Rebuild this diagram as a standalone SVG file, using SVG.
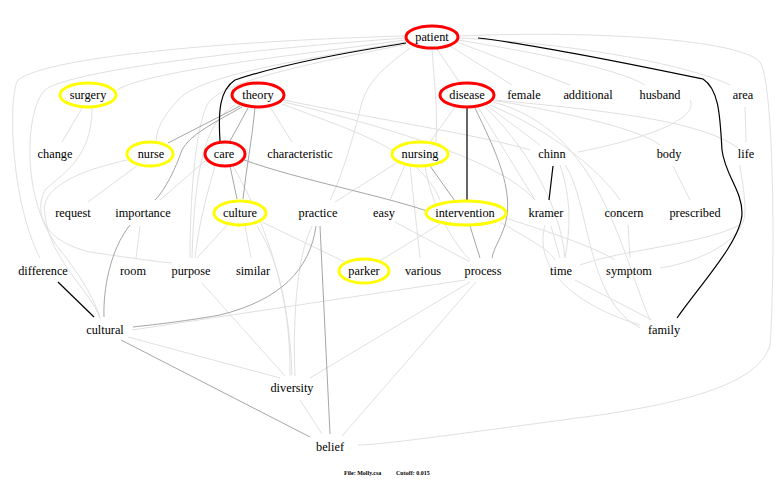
<svg xmlns="http://www.w3.org/2000/svg" width="780" height="485" viewBox="0 0 780 485">
<style>
.bg{fill:#ffffff}
.l{fill:none;stroke:#e0e0e0;stroke-width:1}
.m{fill:none;stroke:#a6a6a6;stroke-width:1}
.k{fill:none;stroke:#000000;stroke-width:1.2}
.t{font-size:12.3px;fill:#000;text-anchor:middle;dominant-baseline:central}
.r{fill:#ffffff;stroke:#ff0000;stroke-width:3}
.y{fill:#ffffff;stroke:#ffff00;stroke-width:3}
.f{font-size:6px;font-weight:bold;fill:#000}
</style>
<rect class="bg" x="0" y="0" width="780" height="485"/>
<g id="connectors">
<path class="l" d="M405,40 C300,55 150,70 117,90"/>
<path class="l" d="M406,36 C250,40 50,55 18,80 C8,95 10,200 40,258"/>
<path class="l" d="M406,38 C260,48 70,70 45,90 C25,110 20,200 60,250 C80,275 95,300 100,318"/>
<path class="l" d="M406,42 C300,60 200,75 178,100 C160,120 157,130 156,141"/>
<path class="l" d="M407,44 C320,62 220,80 207,105 C195,130 190,200 190,258"/>
<path class="l" d="M410,48 C380,70 365,85 360,110 C350,150 340,180 330,200"/>
<path class="l" d="M432,49 C434,80 438,110 436,142"/>
<path class="l" d="M437,49 L460,83"/>
<path class="l" d="M450,46 L512,85"/>
<path class="l" d="M457,42 L570,85"/>
<path class="l" d="M458,40 C550,55 620,70 645,85"/>
<path class="l" d="M459,38 C600,45 700,70 730,85"/>
<path class="l" d="M460,36 C600,30 740,40 760,62 C775,85 775,280 770,345 C760,380 700,400 600,415 C450,435 380,445 358,445"/>
<path class="l" d="M270,107 L292,142"/>
<path class="l" d="M284,100 C380,120 480,135 530,150"/>
<path class="l" d="M284,102 C380,125 500,160 535,200"/>
<path class="l" d="M282,104 C350,130 420,150 440,200"/>
<path class="l" d="M235,105 C210,120 195,150 192,258"/>
<path class="l" d="M206,160 L160,200"/>
<path class="l" d="M215,166 C205,200 198,230 195,258"/>
<path class="l" d="M233,166 C270,230 290,300 292,375"/>
<path class="l" d="M138,165 L88,202"/>
<path class="l" d="M127,160 C60,175 40,195 45,215 C50,260 90,290 100,318"/>
<path class="l" d="M82,108 L62,142"/>
<path class="l" d="M92,108 C92,160 60,175 45,190 C35,210 40,240 90,252 C130,258 160,262 172,263"/>
<path class="l" d="M455,107 L430,142"/>
<path class="l" d="M485,104 L540,145"/>
<path class="l" d="M492,100 C580,115 640,130 660,145"/>
<path class="l" d="M490,105 C550,130 600,170 620,200"/>
<path class="l" d="M478,107 L535,200"/>
<path class="l" d="M485,107 C520,140 560,200 565,258"/>
<path class="l" d="M493,102 C600,130 620,250 650,320"/>
<path class="l" d="M494,100 C600,110 700,120 738,148"/>
<path class="l" d="M578,152 C640,140 700,120 690,100"/>
<path class="l" d="M545,225 C535,260 560,300 640,325"/>
<path class="l" d="M565,165 C590,200 585,300 640,328"/>
<path class="l" d="M560,165 C572,200 570,230 565,258"/>
<path class="l" d="M505,218 C560,235 600,250 615,260"/>
<path class="l" d="M500,222 C530,240 550,250 555,260"/>
<path class="l" d="M660,268 C700,262 745,240 745,212 C745,190 740,170 740,165"/>
<path class="l" d="M580,265 C620,250 700,245 740,225"/>
<path class="l" d="M628,225 L630,258"/>
<path class="l" d="M673,166 L690,200"/>
<path class="l" d="M745,107 L746,142"/>
<path class="l" d="M551,226 L560,258"/>
<path class="l" d="M575,280 L652,320"/>
<path class="l" d="M410,166 L420,258"/>
<path class="l" d="M405,165 L390,200"/>
<path class="l" d="M398,162 L335,202"/>
<path class="l" d="M395,222 L470,262"/>
<path class="l" d="M378,262 L440,224"/>
<path class="l" d="M425,166 C430,200 450,240 470,260"/>
<path class="l" d="M262,222 L345,262"/>
<path class="l" d="M245,226 L251,258"/>
<path class="l" d="M228,224 L197,258"/>
<path class="l" d="M140,226 L136,258"/>
<path class="l" d="M465,280 L132,330"/>
<path class="l" d="M470,282 L310,378"/>
<path class="l" d="M476,282 L342,436"/>
<path class="l" d="M312,226 C295,260 293,330 295,376"/>
<path class="l" d="M257,226 C285,270 290,330 290,376"/>
<path class="l" d="M128,337 L280,378"/>
<path class="l" d="M300,400 L322,434"/>
<path class="l" d="M202,283 L285,376"/>
<path class="m" d="M240,106 L168,143"/>
<path class="m" d="M242,107 C210,125 190,135 182,150 C175,170 165,190 155,200"/>
<path class="m" d="M248,108 L230,141"/>
<path class="m" d="M255,108 C252,140 246,170 243,199"/>
<path class="m" d="M230,166 L237,199"/>
<path class="m" d="M244,160 C300,180 380,195 427,211"/>
<path class="m" d="M430,166 L455,201"/>
<path class="m" d="M470,226 L480,258"/>
<path class="m" d="M475,108 C495,150 515,190 505,225 C500,240 493,250 492,258"/>
<path class="m" d="M316,226 C310,270 280,300 220,315 C180,322 150,325 133,327"/>
<path class="m" d="M320,226 L330,434"/>
<path class="m" d="M130,225 C110,250 103,290 104,317"/>
<path class="m" d="M121,340 L310,437"/>
<path class="k" d="M406,43 C390,46 300,58 235,80 C220,90 218,110 220,141"/>
<path class="k" d="M478,38 C540,45 650,68 703,79 C720,90 720,120 722,150 C725,175 742,190 742,213 C742,240 700,285 677,318"/>
<path class="k" d="M467,108 L467,200"/>
<path class="k" d="M553,166 L549,200"/>
<path class="k" d="M58,282 L94,317"/>
</g>
<g id="nodes" font-family="Liberation Serif, Times New Roman, serif">
<g id="n-patient"><ellipse class="r" cx="432" cy="37" rx="26" ry="11"/><text class="t" x="432" y="37">patient</text></g>
<g id="n-surgery"><ellipse class="y" cx="88" cy="95" rx="28" ry="12"/><text class="t" x="88" y="95">surgery</text></g>
<g id="n-theory"><ellipse class="r" cx="258" cy="95" rx="26" ry="12"/><text class="t" x="258" y="95">theory</text></g>
<g id="n-disease"><ellipse class="r" cx="467" cy="95" rx="27" ry="12"/><text class="t" x="467" y="95">disease</text></g>
<g id="n-female"><text class="t" x="524" y="95">female</text></g>
<g id="n-additional"><text class="t" x="588" y="95">additional</text></g>
<g id="n-husband"><text class="t" x="660" y="95">husband</text></g>
<g id="n-area"><text class="t" x="743" y="95">area</text></g>
<g id="n-change"><text class="t" x="55" y="154">change</text></g>
<g id="n-nurse"><ellipse class="y" cx="150" cy="154" rx="23" ry="12"/><text class="t" x="151" y="154">nurse</text></g>
<g id="n-care"><ellipse class="r" cx="225" cy="154" rx="20" ry="12"/><text class="t" x="224" y="154">care</text></g>
<g id="n-characteristic"><text class="t" x="300" y="154">characteristic</text></g>
<g id="n-nursing"><ellipse class="y" cx="420" cy="154" rx="28" ry="12"/><text class="t" x="420" y="154">nursing</text></g>
<g id="n-chinn"><text class="t" x="552" y="154">chinn</text></g>
<g id="n-body"><text class="t" x="669" y="154">body</text></g>
<g id="n-life"><text class="t" x="746" y="154">life</text></g>
<g id="n-request"><text class="t" x="73" y="213">request</text></g>
<g id="n-importance"><text class="t" x="143" y="213">importance</text></g>
<g id="n-culture"><ellipse class="y" cx="240" cy="213" rx="26" ry="12"/><text class="t" x="240" y="213">culture</text></g>
<g id="n-practice"><text class="t" x="318" y="213">practice</text></g>
<g id="n-easy"><text class="t" x="384" y="213">easy</text></g>
<g id="n-intervention"><ellipse class="y" cx="466" cy="213" rx="40" ry="12"/><text class="t" x="465" y="213">intervention</text></g>
<g id="n-kramer"><text class="t" x="546" y="213">kramer</text></g>
<g id="n-concern"><text class="t" x="624" y="213">concern</text></g>
<g id="n-prescribed"><text class="t" x="695" y="213">prescribed</text></g>
<g id="n-difference"><text class="t" x="43" y="271">difference</text></g>
<g id="n-room"><text class="t" x="133" y="271">room</text></g>
<g id="n-purpose"><text class="t" x="191" y="271">purpose</text></g>
<g id="n-similar"><text class="t" x="253" y="271">similar</text></g>
<g id="n-parker"><ellipse class="y" cx="364" cy="271" rx="25" ry="12"/><text class="t" x="364" y="271">parker</text></g>
<g id="n-various"><text class="t" x="423" y="271">various</text></g>
<g id="n-process"><text class="t" x="483" y="271">process</text></g>
<g id="n-time"><text class="t" x="561" y="271">time</text></g>
<g id="n-symptom"><text class="t" x="629" y="271">symptom</text></g>
<g id="n-cultural"><text class="t" x="105" y="330">cultural</text></g>
<g id="n-family"><text class="t" x="664" y="330">family</text></g>
<g id="n-diversity"><text class="t" x="292" y="388">diversity</text></g>
<g id="n-belief"><text class="t" x="330" y="447">belief</text></g>
<g id="footer"><text class="f" x="344" y="475">File: Molly.csa</text><text class="f" x="396" y="475">Cutoff: 0.015</text></g>
</g>
</svg>
